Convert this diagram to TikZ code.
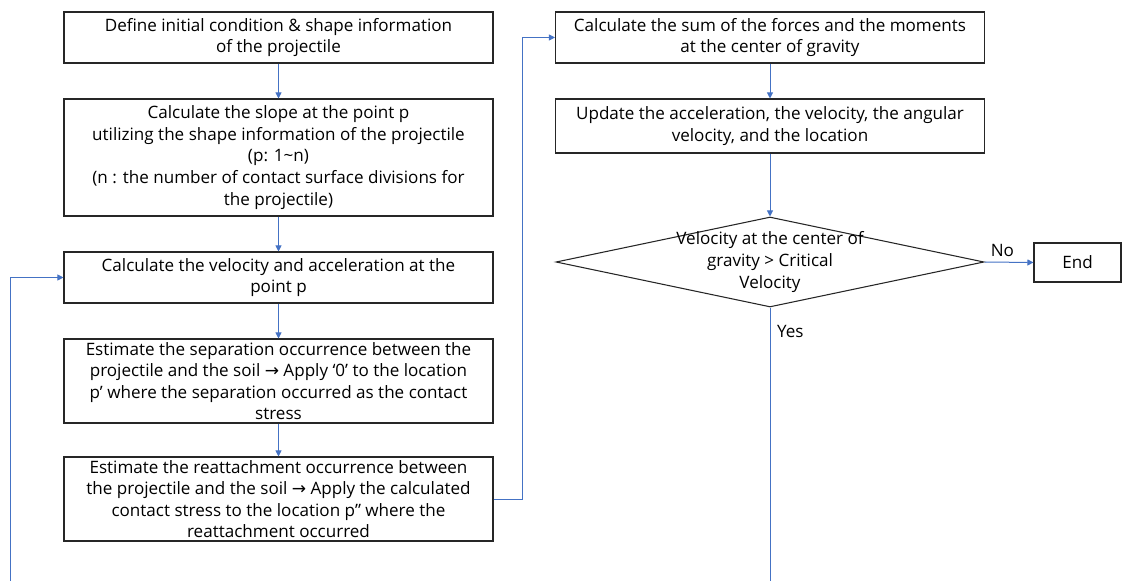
\documentclass[tikz,border=0pt]{standalone}
\usepackage{fontspec}
\setmainfont{Open Sans}
\newfontfamily\arrowfont{DejaVu Sans}
\usetikzlibrary{arrows.meta,shapes.geometric}
\definecolor{conn}{HTML}{4472C4}
\definecolor{bord}{HTML}{262626}
\newcommand{\rarr}{{\arrowfont →}}
\begin{document}
\begin{tikzpicture}[x=0.75pt,y=-0.75pt,
  font=\fontsize{12.8}{16.2}\selectfont,
  box/.style={draw=bord,line width=0.8pt,rectangle,inner sep=0pt,align=center,minimum width=321.75pt},
  conline/.style={draw=conn,line width=0.75pt},
  arr/.style={conline,-{Triangle[width=4.5pt,length=4.5pt]}}]
\useasboundingbox (0,0) rectangle (1122,581);
\node[box,minimum height=38.25pt] (b1) at (278.5,37.5) {Define initial condition \& shape information\\of the projectile};
\node[box,minimum height=87.75pt] (b2) at (278.5,157.5) {Calculate the slope at the point p\\utilizing the shape information of the projectile\\(p: 1\textasciitilde n)\\(n : the number of contact surface divisions for\\the projectile)};
\node[box,minimum height=38.25pt] (b3) at (278.5,277.5) {Calculate the velocity and acceleration at the\\point p};
\node[box,minimum height=63pt] (b4) at (278.5,381) {Estimate the separation occurrence between the\\projectile and the soil \rarr{} Apply ‘0’ to the location\\p’ where the separation occurred as the contact\\stress};
\node[box,minimum height=63pt] (b5) at (278.5,499) {Estimate the reattachment occurrence between\\the projectile and the soil \rarr{} Apply the calculated\\contact stress to the location p” where the\\reattachment occurred};
\node[box,minimum height=38.25pt] (ra) at (770,37.5) {Calculate the sum of the forces and the moments\\at the center of gravity};
\node[box,minimum height=40.5pt] (rb) at (770,126) {Update the acceleration, the velocity, the angular\\velocity, and the location};
\node[diamond,draw=bord,line width=0.8pt,inner sep=0pt,minimum width=321pt,minimum height=67.5pt] (dec) at (770,262) {};
\node[align=center,inner sep=0pt] (dectext) at (dec.center) {Velocity at the center of\\gravity \textgreater{} Critical\\Velocity};
\node[draw=bord,line width=0.8pt,rectangle,inner sep=0pt,minimum width=65.25pt,minimum height=29.25pt] (end) at (1077.5,262.5) {End};
\coordinate (j) at (522,499);
\coordinate (lb) at (10,581);
\coordinate (db) at (770,581);
\draw[arr] (b1) -- (b2);
\draw[arr] (b2) -- (b3);
\draw[arr] (b3) -- (b4);
\draw[arr] (b4) -- (b5);
\draw[arr] (b5.east) -- (j) |- (ra.west);
\draw[arr] (ra) -- (rb);
\draw[arr] (rb) -- (dec.north);
\draw[arr] (dec.east) -- node[above,inner sep=4pt,xshift=-5pt] (no) {No} (end.west);
\draw[conline] (dec.south) -- node[pos=0.088,right,inner sep=5pt] (yes) {Yes} (db);
\draw[arr] (lb) |- (b3.west);
\end{tikzpicture}
\end{document}
